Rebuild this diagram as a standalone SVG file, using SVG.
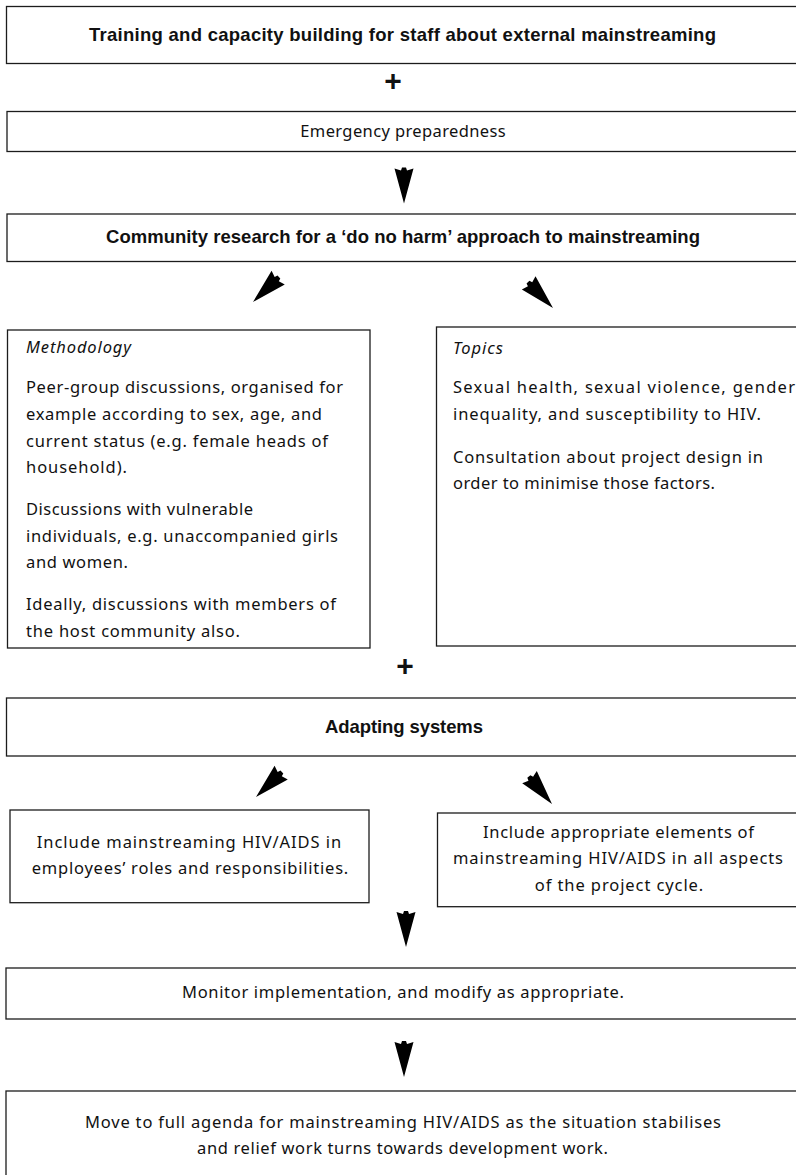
<svg xmlns="http://www.w3.org/2000/svg" xmlns:xlink="http://www.w3.org/1999/xlink" width="796" height="1175" viewBox="0 0 796 1175">
  <style>
    .box { fill: #ffffff; stroke: #1c1c1c; stroke-width: 1.3; }
    .hd { font-family: "Liberation Sans", Arial, sans-serif; font-weight: bold; font-size: 18.5px; fill: #111; text-anchor: middle; }
    .tx { font-family: "Noto Sans", "DejaVu Sans", sans-serif; font-size: 16.5px; fill: #111; }
    .c { text-anchor: middle; }
    .it { font-style: italic; }
    .plus { font-family: "Liberation Sans", Arial, sans-serif; font-weight: bold; font-size: 30px; fill: #111; text-anchor: middle; }
    .arrow { fill: #000; }
  </style>
  <defs>
    <!-- solid arrowhead with a shallow notch at the tail, tip at the origin, pointing down -->
    <polygon id="head" points="0,0 -9.5,-35 -3,-33 -2,-36 2,-36 3,-33 9.5,-35"/>
  </defs>

  <rect width="796" height="1175" fill="#ffffff"/>

  <g id="training">
    <rect class="box" x="6.5" y="6.5" width="800" height="57"/>
    <text class="hd" x="402.5" y="41" textLength="627">Training and capacity building for staff about external mainstreaming</text>
  </g>

  <text class="plus" x="393" y="91">+</text>

  <g id="emergency">
    <rect class="box" x="7" y="111.5" width="800" height="40"/>
    <text class="tx c" x="403" y="136.5" textLength="205.5">Emergency preparedness</text>
  </g>

  <g id="research">
    <rect class="box" x="7" y="214" width="800" height="47.5"/>
    <text class="hd" x="403" y="243.3" textLength="594">Community research for a ‘do no harm’ approach to mainstreaming</text>
  </g>

  <g id="methodology">
    <rect class="box" x="7.5" y="330" width="362.5" height="318"/>
    <text class="tx it" x="26" y="352.7" textLength="105">Methodology</text>
    <text class="tx" x="26" y="393.3" textLength="317">Peer-group discussions, organised for</text>
    <text class="tx" x="26" y="420" textLength="296">example according to sex, age, and</text>
    <text class="tx" x="26" y="446.7" textLength="302">current status (e.g. female heads of</text>
    <text class="tx" x="26" y="473.3" textLength="101">household).</text>
    <text class="tx" x="26" y="515" textLength="227">Discussions with vulnerable</text>
    <text class="tx" x="26" y="541.7" textLength="312">individuals, e.g. unaccompanied girls</text>
    <text class="tx" x="26" y="568.3" textLength="102">and women.</text>
    <text class="tx" x="26" y="610" textLength="310">Ideally, discussions with members of</text>
    <text class="tx" x="26" y="636.7" textLength="214">the host community also.</text>
  </g>

  <g id="topics">
    <rect class="box" x="436.5" y="327" width="400" height="319"/>
    <text class="tx it" x="453" y="354" textLength="50">Topics</text>
    <text class="tx" x="453" y="393.3" textLength="342">Sexual health, sexual violence, gender</text>
    <text class="tx" x="453" y="420" textLength="308">inequality, and susceptibility to HIV.</text>
    <text class="tx" x="453" y="462.5" textLength="310">Consultation about project design in</text>
    <text class="tx" x="453" y="489" textLength="262">order to minimise those factors.</text>
  </g>

  <text class="plus" x="405" y="676">+</text>

  <g id="adapting">
    <rect class="box" x="6.5" y="698" width="800" height="58"/>
    <text class="hd" x="404" y="732.7" textLength="158">Adapting systems</text>
  </g>

  <g id="roles">
    <rect class="box" x="10" y="810" width="359" height="92.7"/>
    <text class="tx c" x="189" y="848" textLength="304.5">Include mainstreaming HIV/AIDS in</text>
    <text class="tx c" x="190" y="874" textLength="316.5">employees’ roles and responsibilities.</text>
  </g>

  <g id="cycle">
    <rect class="box" x="437.5" y="813" width="400" height="93.7"/>
    <text class="tx c" x="618.5" y="837.5" textLength="271">Include appropriate elements of</text>
    <text class="tx c" x="618" y="864" textLength="330">mainstreaming HIV/AIDS in all aspects</text>
    <text class="tx c" x="619" y="890.5" textLength="168.5">of the project cycle.</text>
  </g>

  <g id="monitor">
    <rect class="box" x="6" y="968" width="800" height="51"/>
    <text class="tx c" x="403" y="998" textLength="442">Monitor implementation, and modify as appropriate.</text>
  </g>

  <g id="full-agenda">
    <rect class="box" x="6" y="1091" width="800" height="120"/>
    <text class="tx c" x="403" y="1128" textLength="636">Move to full agenda for mainstreaming HIV/AIDS as the situation stabilises</text>
    <text class="tx c" x="402.5" y="1154" textLength="411">and relief work turns towards development work.</text>
  </g>

  <g id="connectors" class="arrow">
    <use xlink:href="#head" transform="translate(404,203.5)"/>
    <use xlink:href="#head" transform="translate(253,302) rotate(46)"/>
    <use xlink:href="#head" transform="translate(553,308) rotate(-44)"/>
    <use xlink:href="#head" transform="translate(256,797) rotate(46)"/>
    <use xlink:href="#head" transform="translate(552,804) rotate(-40)"/>
    <use xlink:href="#head" transform="translate(406,947)"/>
    <use xlink:href="#head" transform="translate(404,1077)"/>
  </g>
</svg>
